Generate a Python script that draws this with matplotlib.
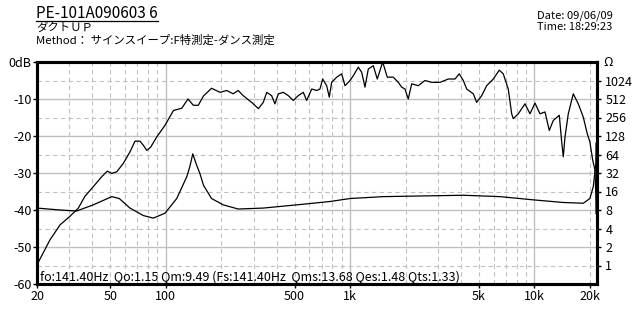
import matplotlib
matplotlib.use("Agg")
import matplotlib.pyplot as plt
from matplotlib.lines import Line2D

plt.rcParams['font.family'] = ['Noto Sans CJK JP', 'DejaVu Sans']

# SPL response (Hz, dB)
spl_freq = [20, 23.5, 26.7, 30.2, 33.5, 36.4, 40.4, 44.9, 48.1, 50.9, 54.1, 58.8, 63.9, 68, 72.4,
            75.5, 78.8, 82.8, 89.2, 99, 110, 122, 132, 141, 150, 160, 177, 197, 214, 232, 247,
            263, 292, 318, 338, 353, 375, 391, 408, 434, 462, 492, 523, 557, 581, 619, 659, 686,
            710, 746, 771, 794, 846, 900, 938, 999, 1041, 1108, 1156, 1204, 1255, 1336, 1404,
            1502, 1591, 1715, 1826, 1905, 1985, 2068, 2158, 2344, 2548, 2770, 3074, 3410, 3707,
            3912, 4113, 4292, 4660, 4860, 5176, 5508, 5982, 6448, 6778, 7214, 7528, 7680, 8176,
            8890, 9464, 10074, 10724, 11416, 12044, 12660, 13646, 14062, 14346, 14654, 15270,
            16252, 17300, 18418, 19360, 20000, 20712, 21320, 21550, 21600]
spl_db = [-54.8, -48.1, -44.0, -41.7, -39.5, -36.3, -33.7, -31.0, -29.5, -30.1, -29.7, -27.4,
          -24.3, -21.4, -21.4, -22.5, -23.9, -23.0, -20.3, -17.1, -13.1, -12.5, -10.0, -11.7,
          -11.7, -9.2, -7.1, -8.2, -7.7, -8.6, -7.7, -9.1, -10.9, -12.6, -10.9, -8.2, -9.1,
          -11.3, -8.6, -8.2, -9.1, -10.4, -9.1, -8.2, -10.4, -7.3, -7.7, -7.3, -4.6, -6.4, -9.5,
          -5.5, -4.1, -3.2, -6.4, -5.0, -3.7, -1.4, -2.8, -6.8, -1.9, -1.0, -4.6, 0.0, -4.1,
          -4.1, -5.5, -6.8, -7.3, -10.0, -5.9, -6.4, -5.0, -5.5, -5.5, -4.6, -4.6, -3.2, -5.0,
          -7.3, -8.6, -10.9, -9.1, -6.4, -4.6, -2.2, -3.2, -7.3, -14.0, -15.3, -14.0, -11.3,
          -14.0, -11.1, -14.0, -13.5, -18.5, -15.8, -14.4, -21.6, -25.6, -20.3, -14.0, -8.6,
          -11.3, -14.9, -19.4, -21.6, -26.5, -29.2, -36.3, -41.0]

# impedance (Hz, ohm)
imp_freq = [20, 26.7, 32.8, 40.4, 50.9, 55.9, 63.9, 75.5, 85.5, 99, 114.6, 130, 135, 140, 147,
            153, 160, 177, 205, 247, 338, 513, 778, 999, 1514, 4113, 6504, 9862, 14346, 18418,
            20000, 20870, 21550, 21600]
imp_ohm = [8.6, 8.0, 7.7, 9.7, 13.2, 12.3, 8.6, 6.5, 5.9, 7.1, 12.3, 27.9, 40.5, 65.6, 42.9,
           31.6, 20.3, 12.3, 9.7, 8.3, 8.6, 9.7, 11.0, 12.3, 13.2, 13.9, 13.2, 11.7, 10.6, 10.3,
           12.3, 19.2, 45.9, 98.0]

x_ticks = [20, 50, 100, 500, 1000, 5000, 10000, 20000]
x_labels = ['20', '50', '100', '500', '1k', '5k', '10k', '20k']
db_ticks = [0, -10, -20, -30, -40, -50, -60]
db_labels = ['0dB', '-10', '-20', '-30', '-40', '-50', '-60']
ohm_ticks = [1, 2, 4, 8, 16, 32, 64, 128, 256, 512, 1024]

W, H = 635, 319
fig = plt.figure(figsize=(W / 100, H / 100), dpi=100)
ax = fig.add_axes([37 / W, 1 - 284 / H, 560 / W, 222 / H])
ax.set_xscale('log')
ax.set_xlim(20, 21860)
ax.set_ylim(-60, 0)

# grid
grid_c = '#c0c0c0'
solid_x = [100, 1000, 10000]
dashed_x = [30, 40, 50, 60, 70, 80, 90, 200, 300, 400, 500, 600, 700, 800, 900,
            2000, 3000, 4000, 5000, 6000, 7000, 8000, 9000, 20000]
for f in solid_x:
    ax.axvline(f, color=grid_c, lw=1.0, zorder=1)
for f in dashed_x:
    ax.axvline(f, color=grid_c, lw=0.8, ls=(0, (4, 3)), zorder=1)
for d in [-10, -20, -30, -40, -50]:
    ax.axhline(d, color=grid_c, lw=1.0, zorder=1)
for d in [-5, -15, -25, -35, -45, -55]:
    ax.axhline(d, color=grid_c, lw=0.8, ls=(0, (4, 3)), zorder=1)

ax.plot(spl_freq, spl_db, color='black', lw=0.9, zorder=3)

ax.set_xticks(x_ticks)
ax.set_xticklabels(x_labels)
ax.xaxis.set_minor_locator(matplotlib.ticker.NullLocator())
ax.set_yticks(db_ticks)
ax.set_yticklabels(db_labels)
ax.tick_params(axis='both', length=3, width=1, labelsize=9, pad=1)

ax2 = ax.twinx()
ax2.set_yscale('log', base=2)
ax2.set_ylim(0.5, 2048)
ax2.plot(imp_freq, imp_ohm, color='black', lw=0.9, zorder=3)
ax2.set_yticks(ohm_ticks)
ax2.set_yticklabels([str(v) for v in ohm_ticks])
ax2.yaxis.set_minor_locator(matplotlib.ticker.NullLocator())
ax2.tick_params(axis='y', length=3, width=1, labelsize=9, pad=3)

for a in (ax, ax2):
    for s in a.spines.values():
        s.set_linewidth(2.2)

fig.text(603 / W, 1 - 63 / H, 'Ω', fontsize=9, va='center', ha='left')

ax.text(3 / 560, 7 / 222,
        'fo:141.40Hz  Qo:1.15 Qm:9.49 (Fs:141.40Hz  Qms:13.68 Qes:1.48 Qts:1.33)',
        transform=ax.transAxes, fontsize=9, va='center', ha='left', zorder=4)

title = fig.text(36 / W, 1 - 13.5 / H, 'PE-101A090603 6', fontsize=11, va='center', ha='left')
fig.text(36 / W, 1 - 28 / H, 'ダクトＵＰ', fontsize=8.2, va='center', ha='left')
fig.text(36 / W, 1 - 40 / H, 'Method： サインスイープ:F特測定-ダンス測定', fontsize=8.2,
         va='center', ha='left')
fig.text(537 / W, 1 - 15.5 / H, 'Date: 09/06/09', fontsize=8, va='center', ha='left')
fig.text(537 / W, 1 - 27.5 / H, 'Time: 18:29:23', fontsize=8, va='center', ha='left')

fig.canvas.draw()
bb = title.get_window_extent().transformed(fig.transFigure.inverted())
fig.add_artist(Line2D([bb.x0, bb.x1], [1 - 21 / H] * 2, color='black', lw=0.9))

fig.savefig('out.png', dpi=100)
